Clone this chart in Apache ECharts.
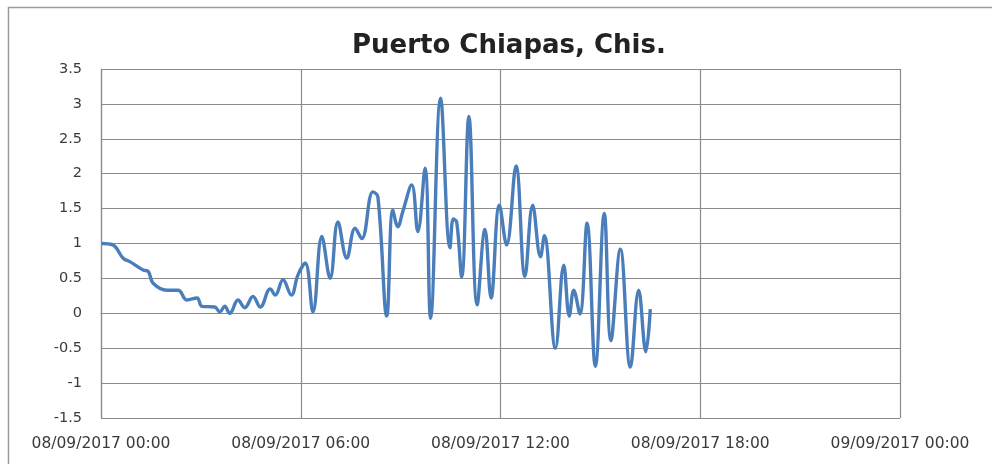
<!DOCTYPE html>
<html>
<head>
<meta charset="utf-8">
<script src="https://cdn.jsdelivr.net/npm/echarts@6/dist/echarts.min.js"></script>
<style>
  html, body { margin: 0; padding: 0; background: #fff; }
  #chart { width: 992px; height: 464px; }
</style>
</head>
<body>
<div id="chart"></div>
<script>
// Sea level record, Puerto Chiapas, 8 Sept 2017
const chartTitle = 'Puerto Chiapas, Chis.';
const axisStart = '2017-09-08T00:00';
const axisEnd = '2017-09-09T00:00';

const times = [
  '00:01', '00:21', '00:40', '00:52', '01:16', '01:25', '01:34', '01:59', '02:19', '02:35',
  '02:53', '03:02', '03:25', '03:34', '03:43', '03:52', '04:07', '04:19', '04:34', '04:47',
  '05:05', '05:14', '05:28', '05:43', '05:55', '06:08', '06:22', '06:38', '06:53', '07:07',
  '07:23', '07:38', '07:50', '08:10', '08:19', '08:35', '08:46', '08:55', '09:04', '09:20',
  '09:31', '09:44', '09:54', '10:12', '10:29', '10:35', '10:41', '10:50', '11:03', '11:18',
  '11:32', '11:43', '11:58', '12:11', '12:28', '12:44', '12:58', '13:12', '13:19', '13:39',
  '13:54', '14:04', '14:12', '14:23', '14:36', '14:51', '15:07', '15:19', '15:36', '15:54',
  '16:09', '16:22', '16:30'
];

const levels = [
  1.00, 0.98, 0.79, 0.74, 0.62, 0.60, 0.43, 0.33, 0.33, 0.19,
  0.22, 0.10, 0.09, 0.02, 0.10, 0.00, 0.19, 0.08, 0.24, 0.09,
  0.35, 0.26, 0.48, 0.26, 0.55, 0.72, 0.02, 1.10, 0.50, 1.31,
  0.79, 1.22, 1.07, 1.74, 1.67, -0.04, 1.48, 1.24, 1.46, 1.84,
  1.17, 2.08, -0.07, 3.08, 0.94, 1.35, 1.31, 0.52, 2.82, 0.12,
  1.20, 0.22, 1.55, 0.98, 2.11, 0.53, 1.55, 0.81, 1.11, -0.50,
  0.69, -0.04, 0.33, -0.01, 1.29, -0.76, 1.43, -0.39, 0.92, -0.77,
  0.33, -0.55, 0.06
];

const yMin = -1.5, yMax = 3.5, yStep = 0.5;
const sixHours = 6 * 3600 * 1000;

const t0 = new Date(axisStart).getTime();
const t1 = new Date(axisEnd).getTime();
const seriesData = times.map((t, i) => [new Date('2017-09-08T' + t).getTime(), levels[i]]);

function pad(n) { return (n < 10 ? '0' : '') + n; }
function fmtStamp(v) {
  const d = new Date(v);
  return pad(d.getDate()) + '/' + pad(d.getMonth() + 1) + '/' + d.getFullYear() + ' ' +
         pad(d.getHours()) + ':' + pad(d.getMinutes());
}

const gridColor = '#8a8a8a';
const labelFont = '"DejaVu Sans", sans-serif';

const chart = echarts.init(document.getElementById('chart'), null, { renderer: 'canvas' });
chart.setOption({
  animation: false,
  backgroundColor: '#ffffff',
  title: {
    text: chartTitle,
    left: 347,
    top: 28,
    textStyle: { fontFamily: labelFont, fontWeight: 'bold', fontSize: 26, color: '#222222' }
  },
  graphic: [{
    type: 'rect',
    shape: { x: 8.5, y: 7.5, width: 1000, height: 500 },
    style: { fill: 'none', stroke: '#9a9a9a', lineWidth: 1.5 },
    silent: true
  }],
  grid: { left: 101, right: 92, top: 69, bottom: 46 },
  xAxis: {
    type: 'value',
    min: t0,
    max: t1,
    interval: sixHours,
    axisLine: { show: true, lineStyle: { color: gridColor, width: 1.2 } },
    axisTick: { show: false },
    splitLine: { show: true, lineStyle: { color: gridColor, width: 1.2 } },
    axisLabel: {
      margin: 18,
      fontFamily: labelFont,
      fontSize: 15.5,
      color: '#3a3a3a',
      showMinLabel: true,
      showMaxLabel: true,
      formatter: fmtStamp
    }
  },
  yAxis: {
    type: 'value',
    min: yMin,
    max: yMax,
    interval: yStep,
    axisLine: { show: true, lineStyle: { color: gridColor, width: 1.2 } },
    axisTick: { show: false },
    splitLine: { show: true, lineStyle: { color: gridColor, width: 1.2 } },
    axisLabel: {
      margin: 19,
      fontFamily: labelFont,
      fontSize: 14.5,
      color: '#3a3a3a'
    }
  },
  series: [{
    type: 'line',
    data: seriesData,
    smooth: 0.4,
    showSymbol: false,
    lineStyle: { color: '#4a7ebb', width: 3.4 },
    itemStyle: { color: '#4a7ebb' }
  }]
});
</script>
</body>
</html>
